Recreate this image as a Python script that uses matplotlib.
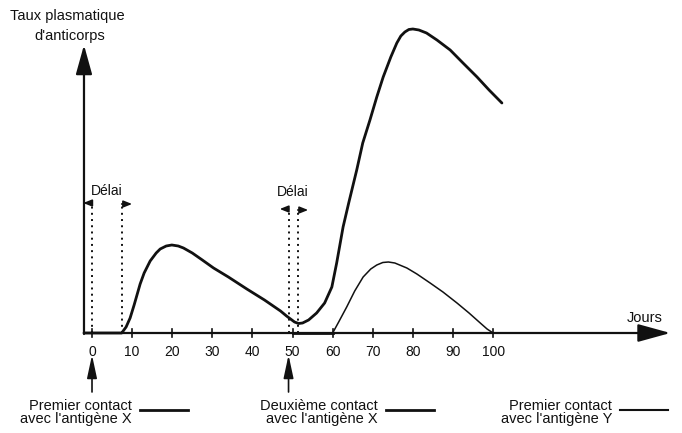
import matplotlib.pyplot as plt

# Réponse primaire puis secondaire à l'antigène X (jours, taux en unités arbitraires)
jours_x = [-2, 7.4, 8.5, 9.5, 10.5, 12, 13, 14.5, 16, 17, 18.5, 19.9, 21.5, 22.8,
           25, 27.5, 30.3, 34, 38.6, 43, 47, 48.5, 49.5, 50.5, 51.5, 52.5, 54,
           56, 58, 59.8, 61, 62.6, 64, 66, 67.5, 69.3, 71, 72.6, 74.5, 76, 77,
           78, 79, 80, 81.5, 83.4, 86, 89.3, 92.5, 96, 99, 102.2]
taux_x = [0, 0, 6, 15, 28, 49, 60, 72, 80, 84, 87, 88, 87, 85,
          80, 73, 65, 56, 44, 33, 22, 17, 14, 11, 9.5, 10, 13,
          20, 30, 46, 70, 106, 130, 163, 190, 213, 236, 256, 276, 290, 297,
          301, 303.5, 304, 303, 300, 293, 283, 270, 256, 243, 230]

# Réponse primaire à l'antigène Y
jours_y = [50, 60, 61.5, 63.5, 65.5, 67.6, 69.5, 71, 72.5, 73.9, 75.5, 78.5,
           81, 84.3, 87.5, 91, 94, 96.8, 98.5, 100]
taux_y = [0, 0, 11, 26, 42, 56, 64, 68, 70.5, 71, 70, 65,
          59, 50, 41, 30, 20, 10, 4, 0]

ticks = [0, 10, 20, 30, 40, 50, 60, 70, 80, 90, 100]
delais = [(0, 7.4), (49, 51.3)]
contacts = [0, 49]

font = ['Liberation Sans Narrow', 'Liberation Sans', 'DejaVu Sans']
plt.rcParams['font.family'] = font
ink = '#111111'

fig = plt.figure(figsize=(6.82, 4.33), dpi=100)
ax = fig.add_axes([0, 0, 1, 1])
ax.set_xlim(-22.94, 147.1)
ax.set_ylim(-100, 333)
ax.axis('off')

# axes avec flèches
ax.annotate('', xy=(144.2, 0), xytext=(-2, 0),
            arrowprops=dict(arrowstyle='-|>,head_length=2.0,head_width=0.55',
                            mutation_scale=10, color=ink, lw=1.6, shrinkA=0, shrinkB=0))
ax.annotate('', xy=(-2, 288), xytext=(-2, -1),
            arrowprops=dict(arrowstyle='-|>,head_length=1.8,head_width=0.5',
                            mutation_scale=10, color=ink, lw=1.6, shrinkA=0, shrinkB=0))
for t in ticks:
    ax.plot([t, t], [-4, 4], color=ink, lw=1.2)
    ax.text(t, -19, str(t), ha='center', va='center', fontsize=10, color=ink)

# courbes
ax.plot(jours_x, taux_x, color=ink, lw=2.0, solid_capstyle='round', solid_joinstyle='round')
ax.plot(jours_y[:2], taux_y[:2], color=ink, lw=2.0)
ax.plot(jours_y[1:], taux_y[1:], color=ink, lw=1.1, solid_joinstyle='round')

# délais
for (a, b), top, ytxt in zip(delais, [128, 122], [142, 141]):
    ax.plot([a, a], [0, top], color=ink, lw=1.4, ls=(0, (1, 2.2)))
    ax.plot([b, b], [0, top], color=ink, lw=1.4, ls=(0, (1, 2.2)))
    ax.annotate('', xy=(a - 2.2, top + 2), xytext=(a, top + 2),
                arrowprops=dict(arrowstyle='-|>,head_length=0.5,head_width=0.2',
                                mutation_scale=10, color=ink, lw=1.2, shrinkA=0, shrinkB=0))
    ax.annotate('', xy=(b + 2.6, top + 1), xytext=(b, top + 1),
                arrowprops=dict(arrowstyle='-|>,head_length=0.5,head_width=0.2',
                                mutation_scale=10, color=ink, lw=1.2, shrinkA=0, shrinkB=0))
    ax.text((a + b) / 2, ytxt, 'Délai', ha='center', va='center', fontsize=10, color=ink)

# contacts
for c in contacts:
    ax.annotate('', xy=(c, -22), xytext=(c, -59),
                arrowprops=dict(arrowstyle='-|>,head_length=1.4,head_width=0.3',
                                mutation_scale=10, color=ink, lw=1.2, shrinkA=0, shrinkB=0))

ax.text(-20.5, 317, 'Taux plasmatique', ha='left', va='center', fontsize=10.5, color=ink)
ax.text(-5.5, 297, "d'anticorps", ha='center', va='center', fontsize=10.5, color=ink)
ax.text(137.8, 15, 'Jours', ha='center', va='center', fontsize=10.5, color=ink)

legendes = [(10, 'Premier contact\navec l\'antigène X', 2.0),
            (71.3, 'Deuxième contact\navec l\'antigène X', 2.0),
            (129.7, 'Premier contact\navec l\'antigène Y', 1.5)]
for xr, label, w in legendes:
    ax.text(xr, -79.5, label, ha='right', va='center', fontsize=10.5, color=ink,
            linespacing=1.0)
    ax.plot([xr + 2, xr + 14], [-77, -77], color=ink, lw=w)

fig.savefig('out.png', dpi=100)
